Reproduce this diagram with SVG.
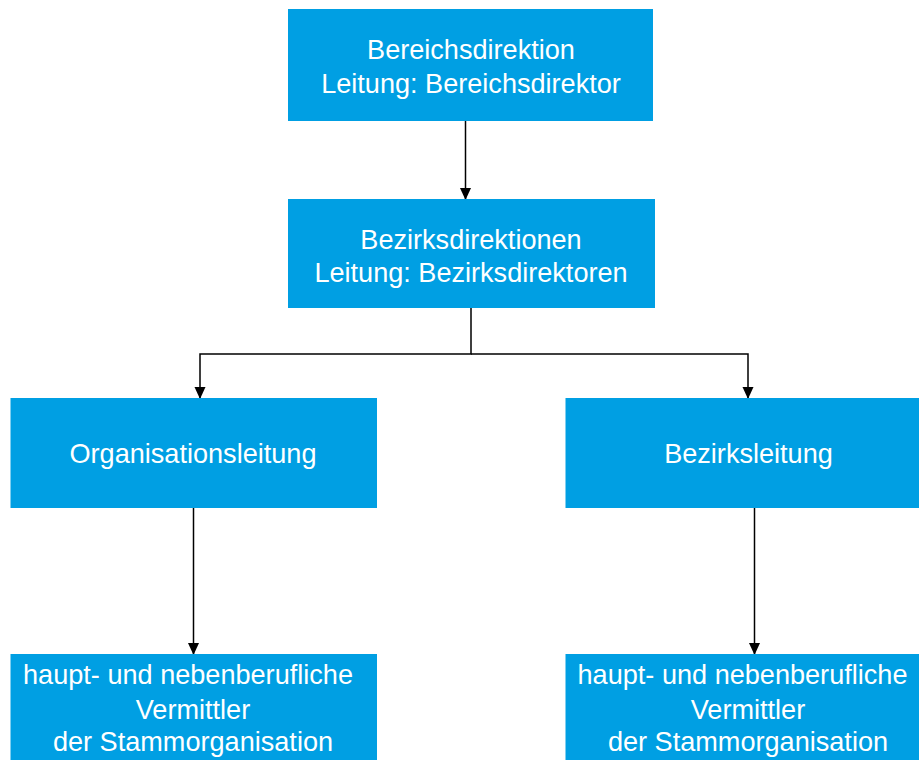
<svg xmlns="http://www.w3.org/2000/svg" width="919" height="760" viewBox="0 0 919 760">
<style>
.box{fill:#009FE3;}
.t{font-family:"Liberation Sans",Arial,sans-serif;font-size:27.1px;fill:#FFFFFF;text-anchor:middle;}
.c{fill:none;stroke:#000000;stroke-width:1.5;}
</style>
<defs>
<marker id="arr" markerWidth="12" markerHeight="12" refX="11" refY="6" orient="auto" markerUnits="userSpaceOnUse">
<path d="M0,0.5 L12,6 L0,11.5 Z" fill="#000000"/>
</marker>
</defs>
<rect width="919" height="760" fill="#FFFFFF"/>
<g id="connectors">
<line class="c" x1="465.5" y1="121" x2="465.5" y2="199" marker-end="url(#arr)"/>
<polyline class="c" points="471,308 471,354 200,354 200,398" marker-end="url(#arr)"/>
<polyline class="c" points="471,354 748,354 748,398" marker-end="url(#arr)"/>
<line class="c" x1="193.5" y1="508" x2="193.5" y2="654" marker-end="url(#arr)"/>
<line class="c" x1="754.5" y1="508" x2="754.5" y2="654" marker-end="url(#arr)"/>
</g>
<g id="bereichsdirektion">
<rect class="box" x="288" y="9" width="365" height="112"/>
<text class="t" x="471" y="59">Bereichsdirektion</text>
<text class="t" x="471" y="93">Leitung: Bereichsdirektor</text>
</g>
<g id="bezirksdirektionen">
<rect class="box" x="288" y="199" width="367" height="109"/>
<text class="t" x="471" y="249">Bezirksdirektionen</text>
<text class="t" x="471" y="282">Leitung: Bezirksdirektoren</text>
</g>
<g id="organisationsleitung">
<rect class="box" x="10.5" y="398" width="366.5" height="110"/>
<text class="t" x="193" y="463">Organisationsleitung</text>
</g>
<g id="bezirksleitung">
<rect class="box" x="565.5" y="398" width="353.5" height="110"/>
<text class="t" x="748.5" y="463">Bezirksleitung</text>
</g>
<g id="vermittler-links">
<rect class="box" x="10.5" y="654" width="366.5" height="106"/>
<text class="t" x="188" y="684">haupt- und nebenberufliche</text>
<text class="t" x="193" y="719">Vermittler</text>
<text class="t" x="193" y="751">der Stammorganisation</text>
</g>
<g id="vermittler-rechts">
<rect class="box" x="565.5" y="654" width="353.5" height="106"/>
<text class="t" x="742.5" y="684">haupt- und nebenberufliche</text>
<text class="t" x="748" y="719">Vermittler</text>
<text class="t" x="748" y="751">der Stammorganisation</text>
</g>
</svg>
